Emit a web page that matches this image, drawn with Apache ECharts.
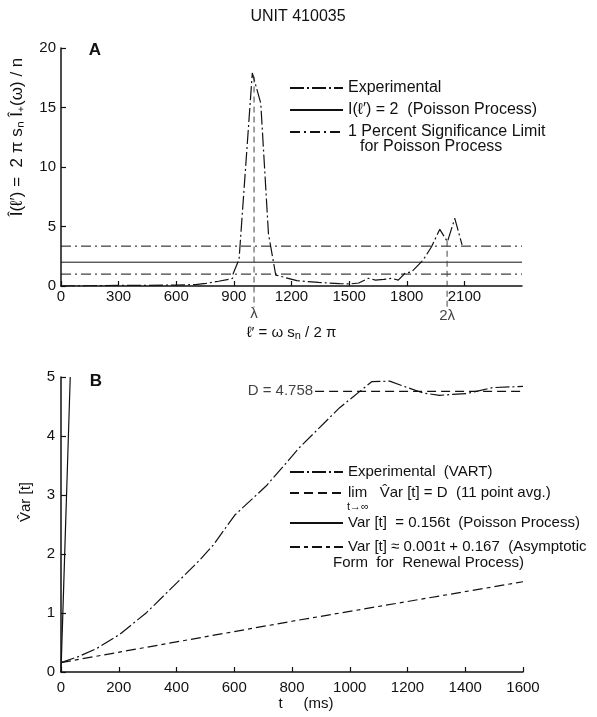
<!DOCTYPE html>
<html>
<head>
<meta charset="utf-8">
<script src="https://cdn.jsdelivr.net/npm/echarts@6/dist/echarts.min.js"></script>
<style>
  html, body { margin: 0; padding: 0; background: #fff; }
  #chart { width: 597px; height: 717px; }
</style>
</head>
<body>
<div id="chart"></div>
<script>
// panel A: spectrum
const specFreq = [0, 150, 300, 450, 600, 700, 755, 820, 876, 893, 897, 927, 996, 1040, 1080, 1118, 1228, 1342, 1450, 1500, 1550, 1600, 1637, 1680, 1720, 1756, 1791, 1826, 1886, 1929, 1972, 2012, 2050, 2088]
const specPower = [0, 0.02, 0.05, 0.05, 0.08, 0.12, 0.22, 0.4, 0.56, 0.64, 1.07, 2.24, 17.9, 15.35, 4.4, 0.92, 0.45, 0.3, 0.2, 0.17, 0.25, 0.65, 0.5, 0.55, 0.65, 0.5, 1.07, 1.2, 2.2, 3.3, 4.76, 3.72, 5.69, 3.45]
const poissonLevel = 2
const sigUpper = 3.35
const sigLower = 1.0
const lambda = 1005
const freqTicks = [0, 300, 600, 900, 1200, 1500, 1800, 2100]

// panel B: variance-time curve
const varTime = [0, 60, 124, 204, 297, 401, 481, 527, 602, 712, 827, 965, 1076, 1138, 1200, 1253, 1311, 1405, 1450, 1495, 1600]
const varValue = [0.16, 0.26, 0.4, 0.64, 1.01, 1.51, 1.9, 2.15, 2.66, 3.16, 3.81, 4.48, 4.92, 4.93, 4.82, 4.73, 4.69, 4.72, 4.77, 4.82, 4.84]
const limitD = 4.758
const limitStart = 880
const poissonVarT = [0, 32]
const poissonVarV = [0, 5]
const renewalT = [0, 800, 1600]
const renewalV = [0.16, 0.86, 1.53]

const ink = '#111'
const font = 'Liberation Sans, Arial, sans-serif'

function zip(xs, ys) {
  return xs.map((x, i) => [x, ys[i]])
}

const nameExpA = 'Experimental'
const namePoisA = 'I(ℓ′) = 2  (Poisson Process)'
const nameSigA = '1 Percent Significance Limit'
const nameExpB = 'Experimental  (VART)'
const nameLimB = 'lim   V̂ar [t] = D  (11 point avg.)'
const namePoisB = 'Var [t]  = 0.156t  (Poisson Process)'
const nameRenB = 'Var [t] ≈ 0.001t + 0.167  (Asymptotic'

function legendRow(name, top, size) {
  return {
    data: [name],
    left: 289,
    top: top,
    padding: 0,
    itemWidth: 53,
    itemHeight: 16,
    selectedMode: false,
    // hide the symbol in the middle of the legend line
    itemStyle: { opacity: 0 },
    textStyle: { color: ink, fontSize: size, fontFamily: font, lineHeight: 16 }
  }
}

function axisCommon() {
  return {
    axisLine: { lineStyle: { color: ink, width: 1.5 } },
    axisTick: { inside: true, length: 5, lineStyle: { color: ink, width: 1.2 } },
    splitLine: { show: false },
    axisLabel: {
      color: ink,
      fontSize: 15,
      fontFamily: font,
      formatter: function(v) {
        return String(v)
      }
    }
  }
}

const xA = axisCommon()
Object.assign(xA, {
  type: 'value', gridIndex: 0, min: 0, max: 2400, interval: 300,
  name: 'ℓ′ = ω s{sub|n} / 2 π',
  nameLocation: 'middle',
  nameGap: 38,
  nameTextStyle: { color: ink, fontSize: 15, fontFamily: font, rich: { sub: { fontSize: 11, verticalAlign: 'bottom', padding: [6, 0, 0, 0] } } }
})
xA.axisLabel = Object.assign({}, xA.axisLabel, { margin: 3, customValues: freqTicks })
xA.axisTick = Object.assign({}, xA.axisTick, { customValues: freqTicks })

const yA = axisCommon()
Object.assign(yA, { type: 'value', gridIndex: 0, min: 0, max: 20, interval: 5 })
yA.axisLabel = Object.assign({}, yA.axisLabel, { margin: 5 })

const xB = axisCommon()
Object.assign(xB, {
  type: 'value', gridIndex: 1, min: 0, max: 1600, interval: 200,
  name: 't     (ms)',
  nameLocation: 'middle',
  nameGap: 22,
  nameTextStyle: { color: ink, fontSize: 15, fontFamily: font, padding: [0, 0, 0, 28] }
})
xB.axisLabel = Object.assign({}, xB.axisLabel, { margin: 8 })

const yB = axisCommon()
Object.assign(yB, { type: 'value', gridIndex: 1, min: 0, max: 5, interval: 1 })
yB.axisLabel = Object.assign({}, yB.axisLabel, { margin: 6 })

function lineSeries(name, data, dash, xi, extra) {
  return Object.assign({
    name: name,
    type: 'line',
    xAxisIndex: xi,
    yAxisIndex: xi,
    data: data,
    symbol: 'none',
    animation: false,
    lineStyle: { color: ink, width: 1.2, type: dash },
    itemStyle: { color: ink }
  }, extra || {})
}

function textMark(name, point, text, xi) {
  return {
    name: name,
    type: 'scatter',
    xAxisIndex: xi,
    yAxisIndex: xi,
    symbolSize: 0,
    clip: false,
    animation: false,
    silent: true,
    data: [point],
    label: { show: true, formatter: text, color: ink, fontSize: 15, fontFamily: font, position: 'inside' }
  }
}

const myChart = echarts.init(document.getElementById('chart'))
myChart.setOption({
  backgroundColor: '#fff',
  animation: false,
  grid: [
    { left: 61, top: 48, width: 461, height: 238 },
    { left: 61, top: 377, width: 462, height: 295 }
  ],
  xAxis: [xA, xB],
  yAxis: [yA, yB],
  legend: [
    legendRow(nameExpA, 80, 16),
    legendRow(namePoisA, 102, 16),
    legendRow(nameSigA, 124, 16),
    legendRow(nameExpB, 464, 15),
    legendRow(nameLimB, 485, 15),
    legendRow(namePoisB, 515, 15),
    legendRow(nameRenB, 539, 15)
  ],
  series: [
    lineSeries(nameSigA, [[0, sigUpper], [2400, sigUpper]], [10, 4, 2, 4], 0, { lineStyle: { color: ink, width: 1, type: [10, 4, 2, 4] } }),
    lineSeries(nameSigA, [[0, sigLower], [2400, sigLower]], [10, 4, 2, 4], 0, { lineStyle: { color: ink, width: 1, type: [10, 4, 2, 4] } }),
    lineSeries(namePoisA, [[0, poissonLevel], [2400, poissonLevel]], 'solid', 0, { lineStyle: { color: ink, width: 1, type: 'solid' } }),
    lineSeries(nameExpA, zip(specFreq, specPower), [14, 3, 2, 3], 0),
    // λ and 2λ markers below the axis
    lineSeries('lambda', [[lambda, 17.6], [lambda, -1.8]], [6, 4], 0, { clip: false, lineStyle: { color: '#444', width: 1, type: [6, 4] } }),
    lineSeries('lambda2', [[2 * lambda, 3.8], [2 * lambda, -1.8]], [6, 4], 0, { clip: false, lineStyle: { color: '#444', width: 1, type: [6, 4] } }),
    textMark('lambdaLabel', [lambda, -2.3], 'λ', 0),
    textMark('lambda2Label', [2 * lambda, -2.5], '2λ', 0),

    lineSeries(nameRenB, zip(renewalT, renewalV), [10, 4, 4, 4], 1),
    lineSeries(namePoisB, zip(poissonVarT, poissonVarV), 'solid', 1),
    lineSeries(nameLimB, [[limitStart, limitD], [1600, limitD]], [9, 5], 1),
    lineSeries(nameExpB, zip(varTime, varValue), [14, 3, 2, 3], 1),
    {
      name: 'limitLabel',
      type: 'scatter',
      xAxisIndex: 1,
      yAxisIndex: 1,
      symbolSize: 0,
      silent: true,
      data: [[limitStart, limitD]],
      label: { show: true, position: 'left', distance: 2, formatter: 'D = 4.758', color: ink, fontSize: 15, fontFamily: font }
    }
  ],
  graphic: [
    { type: 'text', x: 298, y: 17, style: { text: 'UNIT 410035', font: '16px ' + font, fill: ink, align: 'center', verticalAlign: 'middle' } },
    { type: 'text', x: 95, y: 50, style: { text: 'A', font: 'bold 17px ' + font, fill: ink, align: 'center', verticalAlign: 'middle' } },
    { type: 'text', x: 96, y: 381, style: { text: 'B', font: 'bold 17px ' + font, fill: ink, align: 'center', verticalAlign: 'middle' } },
    { type: 'text', x: 17, y: 137, rotation: Math.PI / 2, style: { text: 'Î(ℓ′) =  2 π s\u2099 Î\u208A(ω) / n', font: '17px ' + font, fill: ink, align: 'center', verticalAlign: 'middle' } },
    { type: 'text', x: 26, y: 502, rotation: Math.PI / 2, style: { text: 'V̂ar [t]', font: '15px ' + font, fill: ink, align: 'center', verticalAlign: 'middle' } },
    { type: 'text', x: 360, y: 147, style: { text: 'for Poisson Process', font: '16px ' + font, fill: ink, verticalAlign: 'middle' } },
    { type: 'text', x: 347, y: 507, style: { text: 't→∞', font: '11px ' + font, fill: ink, verticalAlign: 'middle' } },
    { type: 'text', x: 333, y: 563, style: { text: 'Form  for  Renewal Process)', font: '15px ' + font, fill: ink, verticalAlign: 'middle' } }
  ]
})
</script>
</body>
</html>
